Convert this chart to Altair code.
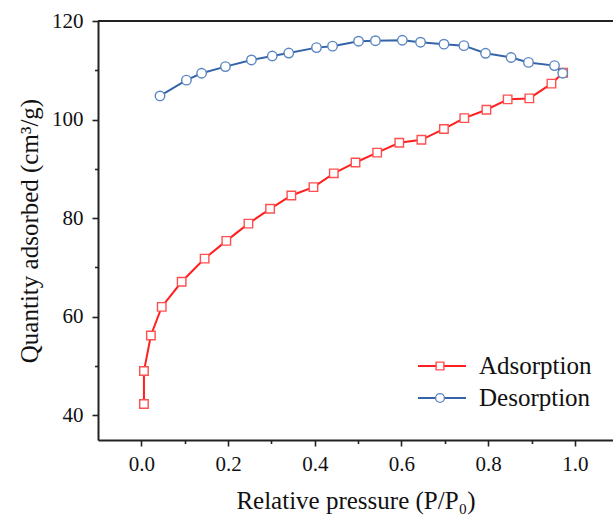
import altair as alt
import pandas as pd

# ---------------- data ----------------
ads_x = [0.006, 0.006, 0.022, 0.047, 0.093, 0.146, 0.196, 0.247, 0.297, 0.346, 0.397,
         0.444, 0.494, 0.544, 0.595, 0.646, 0.698, 0.745, 0.796, 0.845, 0.895, 0.946, 0.973]
ads_y = [42.3, 49.0, 56.2, 62.0, 67.1, 71.8, 75.4, 78.9, 81.9, 84.6, 86.3,
         89.1, 91.3, 93.3, 95.3, 95.9, 98.1, 100.3, 102.0, 104.1, 104.3, 107.3, 109.5]
des_x = [0.043, 0.104, 0.139, 0.194, 0.254, 0.302, 0.340, 0.404, 0.441, 0.501,
         0.540, 0.602, 0.644, 0.698, 0.744, 0.794, 0.853, 0.893, 0.953, 0.972]
des_y = [104.8, 108.0, 109.4, 110.75, 112.1, 112.9, 113.5, 114.6, 114.9, 115.9,
         116.0, 116.1, 115.7, 115.3, 115.0, 113.45, 112.6, 111.6, 110.95, 109.4]

series_names = ["Adsorption", "Desorption"]
x_ticks = [0.0, 0.1, 0.2, 0.3, 0.4, 0.5, 0.6, 0.7, 0.8, 0.9, 1.0]
y_ticks = [40, 50, 60, 70, 80, 90, 100, 110, 120]

# ---------------- styling / layout ----------------
FONT = "Liberation Serif"
AX = "#222222"
TXT = "#111111"
LINE_COL = {"Adsorption": "#ff1f1f", "Desorption": "#3565a8"}
MARK_COL = {"Adsorption": "#ff4f4f", "Desorption": "#5a86c2"}
SHAPES = {"Adsorption": "square", "Desorption": "circle"}
SIZES = {"Adsorption": 72, "Desorption": 90}
W, H = 515, 419
X_DOM = [-0.1, 1.088]
Y_DOM = [35, 120]

df_a = pd.DataFrame({"p": ads_x, "q": ads_y, "s": series_names[0], "o": range(len(ads_x))})
df_d = pd.DataFrame({"p": des_x, "q": des_y, "s": series_names[1], "o": range(len(des_x))})

common_axis = dict(
    grid=False, domainColor=AX, domainWidth=2, tickColor=AX, tickWidth=1.6,
    labelFont=FONT, labelFontSize=21, labelColor=TXT,
    titleFont=FONT, titleFontSize=25, titleFontWeight="normal", titleColor=TXT,
)
xaxis = alt.Axis(
    values=x_ticks, title="Relative pressure (P/P\u2080)", format=".1f",
    labelExpr="abs(round(datum.value*10)) % 2 == 0 ? datum.label : ''",
    tickSize={"condition": {"test": "abs(round(datum.value*10)) % 2 == 0", "value": 6}, "value": 3.5},
    labelPadding=7, titlePadding=14, **common_axis,
)
yaxis = alt.Axis(
    values=y_ticks, title="Quantity adsorbed (cm\u00b3/g)",
    labelExpr="datum.value % 20 == 0 ? datum.label : ''",
    tickSize={"condition": {"test": "datum.value % 20 == 0", "value": 6}, "value": 3.5},
    labelPadding=9, titlePadding=9, **common_axis,
)

X = alt.X("p:Q", scale=alt.Scale(domain=X_DOM, nice=False, zero=False), axis=xaxis)
Y = alt.Y("q:Q", scale=alt.Scale(domain=Y_DOM, nice=False, zero=False), axis=yaxis)

layers = []
for name, d in zip(series_names, [df_a, df_d]):
    base = alt.Chart(d)
    layers.append(base.mark_line(color=LINE_COL[name], strokeWidth=2, clip=True)
                  .encode(x=X, y=Y, order="o:Q"))
    layers.append(base.mark_point(shape=SHAPES[name], filled=False, fill="white", fillOpacity=1,
                                  color=MARK_COL[name], strokeWidth=1.4, size=SIZES[name],
                                  opacity=1, clip=True)
                  .encode(x=X, y=Y))

# top frame line
one = pd.DataFrame({"k": [0]})
layers.append(alt.Chart(one).mark_rule(color=AX, strokeWidth=2)
              .encode(x=alt.value(0), x2=alt.value(W + 2), y=alt.value(0)))

# legend (line + marker + label)
LEG_X1, LEG_X2, LEG_XM, LEG_TX = 320, 368, 342, 381
LEG_Y0, LEG_DY = 345, 32
for i, name in enumerate(series_names):
    ly = LEG_Y0 + i * LEG_DY
    layers.append(alt.Chart(one).mark_rule(color=LINE_COL[name], strokeWidth=2)
                  .encode(x=alt.value(LEG_X1), x2=alt.value(LEG_X2), y=alt.value(ly)))
    layers.append(alt.Chart(one).mark_point(shape=SHAPES[name], filled=False, fill="white", fillOpacity=1,
                                            color=MARK_COL[name], strokeWidth=1.4,
                                            size=SIZES[name] - 12, opacity=1)
                  .encode(x=alt.value(LEG_XM), y=alt.value(ly)))
    layers.append(alt.Chart(one).mark_text(text=name, font=FONT, fontSize=25, color=TXT,
                                           align="left", baseline="middle")
                  .encode(x=alt.value(LEG_TX), y=alt.value(ly)))

chart = alt.layer(*layers).properties(
    width=W, height=H,
    autosize=alt.AutoSizeParams(type="none"),
    padding={"left": 98, "top": 21, "right": 0, "bottom": 81},
    background="white",
).configure_view(stroke=None).configure(font=FONT)

chart.save("out.html", embed_options={"renderer": "svg", "actions": False})
